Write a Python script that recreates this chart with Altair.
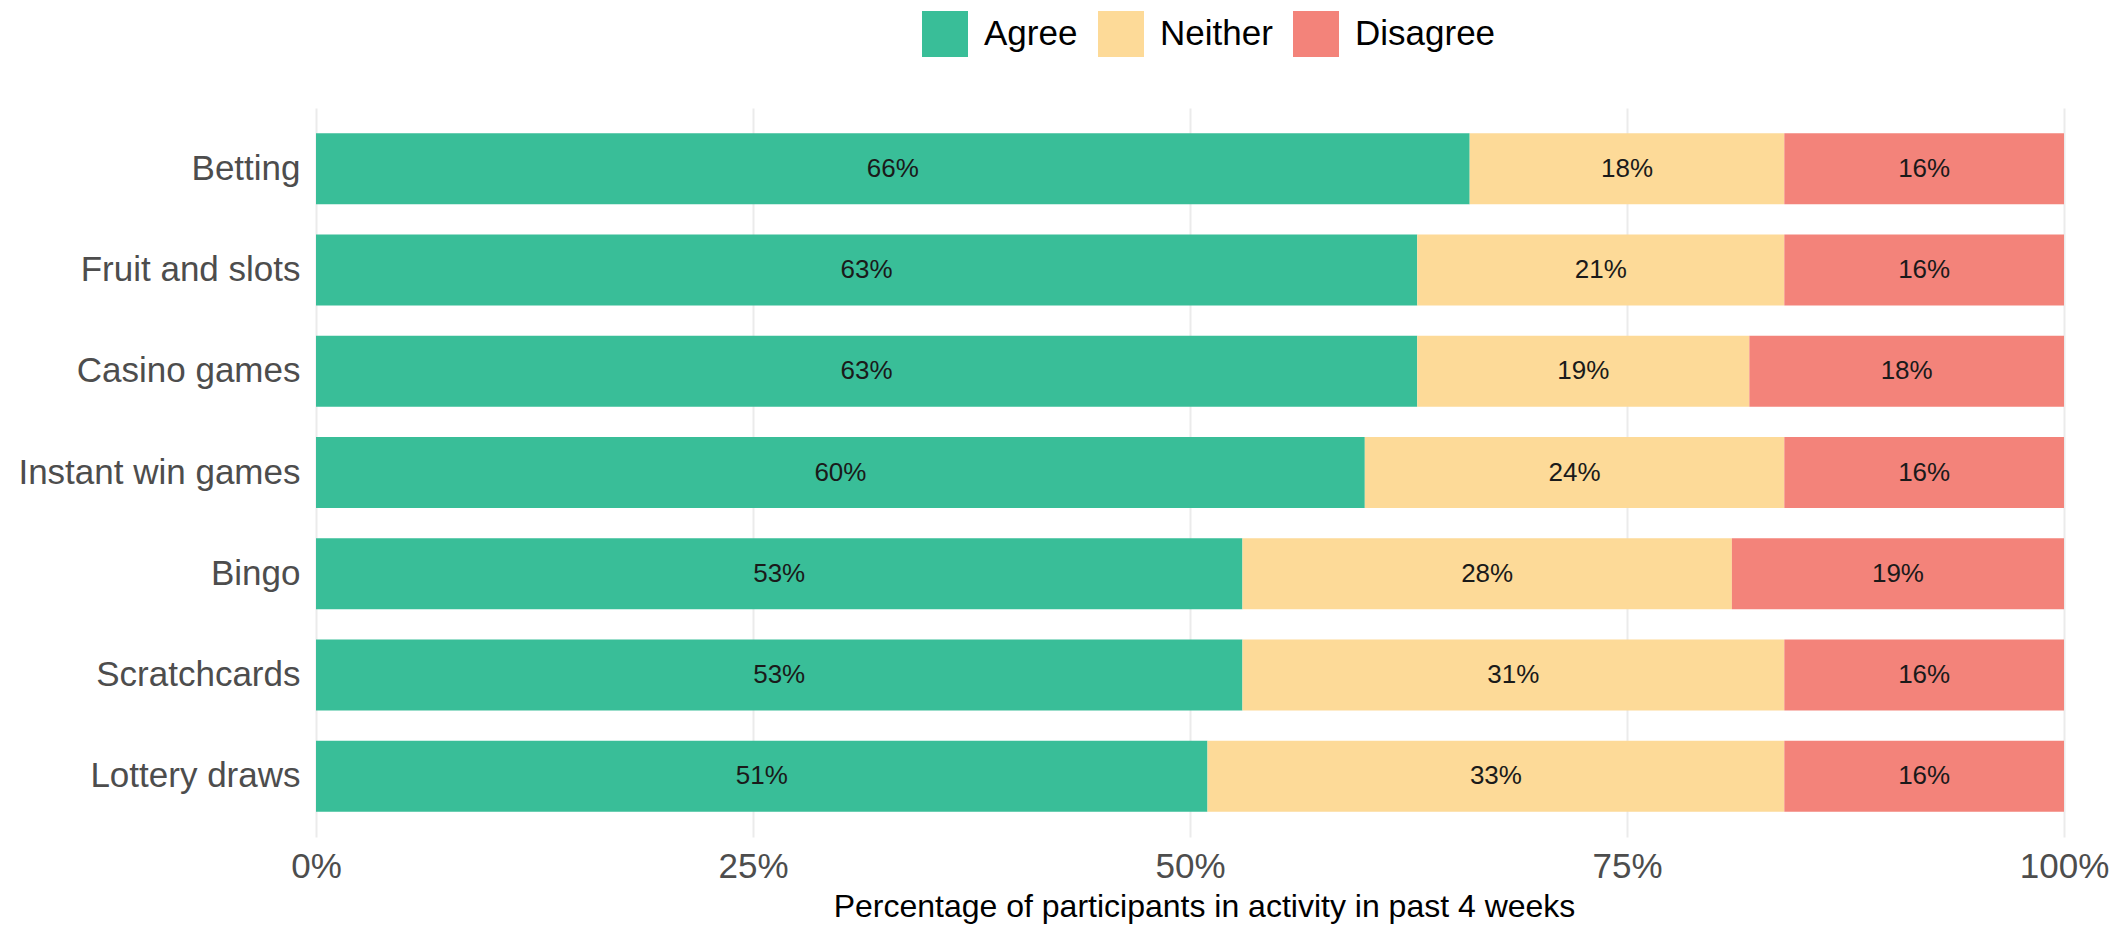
import altair as alt
import pandas as pd

# Survey responses by gambling activity (percent of participants)
activities = ["Betting", "Fruit and slots", "Casino games", "Instant win games",
              "Bingo", "Scratchcards", "Lottery draws"]
responses = ["Agree", "Neither", "Disagree"]
agree = [66, 63, 63, 60, 53, 53, 51]
neither = [18, 21, 19, 24, 28, 31, 33]
disagree = [16, 16, 18, 16, 19, 16, 16]
colors = ["#39BE98", "#FDDA98", "#F3837A"]
x_ticks = [0, 25, 50, 75, 100]

rows = []
for i, act in enumerate(activities):
    start = 0
    for resp, vals in zip(responses, [agree, neither, disagree]):
        v = vals[i]
        rows.append({
            "activity": act,
            "response": resp,
            "value": v,
            "start": start,
            "end": start + v,
            "mid": start + v / 2,
            "label": f"{v}%",
        })
        start += v
df = pd.DataFrame(rows)

FONT = "Liberation Sans"

y_enc = alt.Y(
    "activity:N",
    sort=activities,
    title=None,
    scale=alt.Scale(paddingInner=0.3, paddingOuter=0.25),
    axis=alt.Axis(labelFontSize=35, labelColor="#4D4D4D", labelFont=FONT,
                  labelLimit=0, ticks=False, domain=False, grid=False,
                  labelPadding=16),
)

bars = alt.Chart(df).mark_bar().encode(
    x=alt.X(
        "start:Q",
        scale=alt.Scale(domain=[0, 100], nice=False, zero=True),
        title="Percentage of participants in activity in past 4 weeks",
        axis=alt.Axis(values=x_ticks, labelExpr="datum.value + '%'",
                      labelFontSize=35, labelColor="#4D4D4D", labelFont=FONT,
                      labelPadding=12, labelFlush=False, labelOverlap=False,
                      ticks=False, domain=False,
                      grid=True, gridColor="#EBEBEB", gridWidth=2,
                      titleFont=FONT, titleFontSize=32, titleFontWeight="normal",
                      titleColor="#000000", titlePadding=7, titleX=888),
    ),
    x2="end:Q",
    y=y_enc,
    color=alt.Color(
        "response:N",
        scale=alt.Scale(domain=responses, range=colors),
        title=None,
        legend=alt.Legend(orient="none", legendX=606, legendY=-97,
                          direction="horizontal", symbolType="square",
                          symbolSize=2116, symbolStrokeWidth=0, symbolOpacity=1,
                          labelFontSize=35, labelFont=FONT, labelColor="#000000",
                          labelOffset=16, columnPadding=20, padding=0),
    ),
)

labels = alt.Chart(df).mark_text(
    font=FONT, fontSize=26, color="#1A1A1A", align="center", baseline="middle"
).encode(
    x="mid:Q",
    y=alt.Y("activity:N", sort=activities),
    text="label:N",
)

chart = (
    alt.layer(bars, labels)
    .properties(
        width=1748,
        height=729,
        autosize=alt.AutoSizeParams(type="none"),
        padding={"left": 316, "top": 108, "right": 60, "bottom": 89},
        background="white",
    )
    .configure_view(stroke=None)
)

chart.save("out.html", embed_options={"renderer": "svg", "actions": False})
